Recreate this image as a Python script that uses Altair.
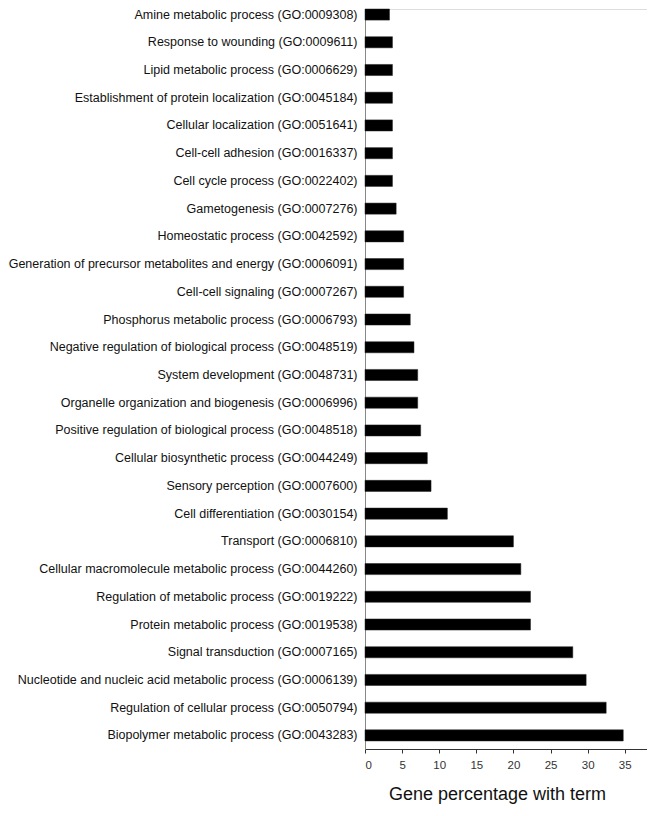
import altair as alt
import pandas as pd

terms = [
    "Amine metabolic process (GO:0009308)",
    "Response to wounding (GO:0009611)",
    "Lipid metabolic process (GO:0006629)",
    "Establishment of protein localization (GO:0045184)",
    "Cellular localization (GO:0051641)",
    "Cell-cell adhesion (GO:0016337)",
    "Cell cycle process (GO:0022402)",
    "Gametogenesis (GO:0007276)",
    "Homeostatic process (GO:0042592)",
    "Generation of precursor metabolites and energy (GO:0006091)",
    "Cell-cell signaling (GO:0007267)",
    "Phosphorus metabolic process (GO:0006793)",
    "Negative regulation of biological process (GO:0048519)",
    "System development (GO:0048731)",
    "Organelle organization and biogenesis (GO:0006996)",
    "Positive regulation of biological process (GO:0048518)",
    "Cellular biosynthetic process (GO:0044249)",
    "Sensory perception (GO:0007600)",
    "Cell differentiation (GO:0030154)",
    "Transport (GO:0006810)",
    "Cellular macromolecule metabolic process (GO:0044260)",
    "Regulation of metabolic process (GO:0019222)",
    "Protein metabolic process (GO:0019538)",
    "Signal transduction (GO:0007165)",
    "Nucleotide and nucleic acid metabolic process (GO:0006139)",
    "Regulation of cellular process (GO:0050794)",
    "Biopolymer metabolic process (GO:0043283)",
]
percent = [3.3, 3.7, 3.7, 3.7, 3.7, 3.7, 3.7, 4.2, 5.2, 5.2, 5.2, 6.1, 6.6, 7.1,
           7.1, 7.5, 8.4, 8.9, 11.1, 20.0, 21.0, 22.3, 22.3, 28.0, 29.8, 32.5, 34.8]
x_ticks = [0, 5, 10, 15, 20, 25, 30, 35]

df = pd.DataFrame({"term": terms, "pct": percent})

FONT = "Liberation Sans"

chart = alt.Chart(df).mark_bar(color="#000000", stroke="#222222", strokeWidth=0.5).encode(
    x=alt.X("pct:Q",
            scale=alt.Scale(domain=[0, 38], nice=False, zero=True),
            axis=alt.Axis(title="Gene percentage with term", values=x_ticks, grid=False,
                          tickSize=4, tickColor="#333333", domainColor="#333333",
                          labelFontSize=11.5, labelColor="#333333", labelPadding=6,
                          labelFont=FONT, titleFont=FONT, titleFontSize=18,
                          titleFontWeight="normal", titleColor="#111111",
                          titlePadding=15, titleX=132, titleAnchor="middle")),
    y=alt.Y("term:N", sort=terms,
            scale=alt.Scale(paddingInner=0.6, paddingOuter=0.145, align=0),
            axis=alt.Axis(title=None, ticks=False, grid=False, domainColor="#888888",
                          labelFontSize=12.5, labelFont=FONT, labelColor="#111111",
                          labelPadding=8, labelLimit=400)),
).properties(width=282, height=740).configure_view(
    strokeOpacity=0, strokeWidth=0
).configure_axis(grid=False).configure(
    padding={"left": 0, "top": 0, "right": 0, "bottom": 0}
)

chart.save("out.html", embed_options={"renderer": "svg", "actions": False})
